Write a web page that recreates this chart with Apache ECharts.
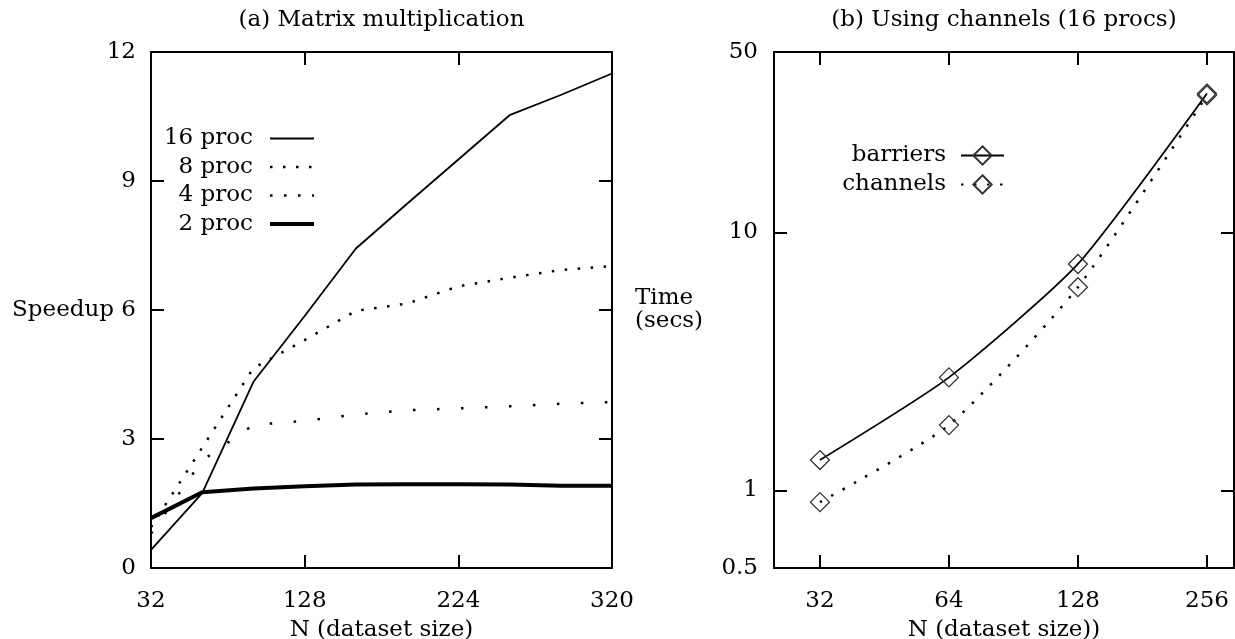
<!DOCTYPE html>
<html><head><meta charset="utf-8">
<script src="https://cdn.jsdelivr.net/npm/echarts@6/dist/echarts.min.js"></script>
<style>html,body{margin:0;padding:0;background:#fff}#c{width:1235px;height:639px}</style>
</head><body><div id="c"></div>
<script>
// ---- data ----
const nValues = [32, 64, 96, 128, 160, 192, 224, 256, 288, 320];
const proc16 = [0.42, 1.74, 4.33, 5.86, 7.43, 8.47, 9.5, 10.53, 11.0, 11.5];
const proc8 = [0.95, 2.8, 4.65, 5.3, 5.98, 6.15, 6.55, 6.75, 6.93, 7.02];
const proc4 = [0.8, 2.5, 3.33, 3.42, 3.57, 3.67, 3.71, 3.76, 3.82, 3.86];
const proc2 = [1.16, 1.76, 1.85, 1.9, 1.94, 1.95, 1.95, 1.94, 1.91, 1.91];
const leftXTicks = [32, 128, 224, 320];
const leftYTicks = [0, 3, 6, 9, 12];
const chanN = [32, 64, 128, 256];
const barriers = [1.31, 2.74, 7.54, 34.5];
const channels = [0.90, 1.79, 6.13, 34.0];
const rightXTicks = [32, 64, 128, 256];
const rightYTicks = [0.5, 1, 10, 50];

// ---- styling ----
const FONT = 'DejaVu Serif';
const txt = {fontFamily: FONT, fontSize: 23, color: '#000', lineHeight: 23};
const axisLine = {show: true, onZero: false, lineStyle: {color: '#000', width: 2}};
const tick = {show: true, inside: true, length: 13, lineStyle: {color: '#000', width: 2}};
function pick(list) {
  return function (v) {
    for (const t of list) if (Math.abs(v - t) <= 1e-3 * Math.max(1, Math.abs(t))) return String(t);
    return '';
  };
}
function pairs(xs, ys) { return xs.map((x, i) => [x, ys[i]]); }
const noSym = {opacity: 0};

const chart = echarts.init(document.getElementById('c'), null, {renderer: 'canvas'});
const option = {
  animation: false,
  backgroundColor: '#fff',
  title: [
    {text: '(a) Matrix multiplication', left: 381.5, top: 9, padding: 0, textAlign: 'center', textStyle: Object.assign({}, txt, {fontWeight: 'normal'})},
    {text: '(b) Using channels (16 procs)', left: 1004, top: 9, padding: 0, textAlign: 'center', textStyle: Object.assign({}, txt, {fontWeight: 'normal'})}
  ],
  grid: [
    {left: 151, top: 52, width: 461, height: 516, show: false, containLabel: false, outerBoundsMode: 'none'},
    {left: 774, top: 52, width: 460, height: 516, show: false, containLabel: false, outerBoundsMode: 'none'}
  ],
  legend: [
    {
      data: [
        {name: '16 proc', lineStyle: {width: 1.8}, itemStyle: noSym},
        {name: '8 proc', lineStyle: {width: 2.5, type: [2.5, 10.5]}, itemStyle: noSym},
        {name: '4 proc', lineStyle: {width: 2.5, type: [2.5, 11.5]}, itemStyle: noSym},
        {name: '2 proc', lineStyle: {width: 4}, itemStyle: noSym}
      ],
      orient: 'vertical', align: 'right', right: 919, top: 127, padding: 0,
      itemWidth: 44, itemHeight: 14, itemGap: 5.5, selectedMode: false,
      itemStyle: noSym,
      textStyle: Object.assign({}, txt, {padding: [0, 12, 0, 0]})
    },
    {
      data: ['barriers', 'channels'],
      orient: 'vertical', align: 'right', right: 230, top: 144, padding: 0,
      itemWidth: 43, itemHeight: 23, itemGap: 6, selectedMode: false,
      textStyle: Object.assign({}, txt, {padding: [0, 10, 0, 0]})
    }
  ],
  xAxis: [
    {gridIndex: 0, type: 'value', min: 32, max: 320, interval: 96, position: 'bottom',
     axisLine: axisLine, axisTick: tick, splitLine: {show: false},
     axisLabel: Object.assign({}, txt, {margin: 22, formatter: pick(leftXTicks)}),
     name: 'N (dataset size)', nameLocation: 'middle', nameGap: 51, nameMoveOverlap: false, nameTextStyle: txt},
    {gridIndex: 0, type: 'value', min: 32, max: 320, interval: 96, position: 'top',
     axisLine: axisLine, axisTick: tick, splitLine: {show: false}, axisLabel: {show: false}},
    {gridIndex: 1, type: 'log', logBase: 2, min: 25, max: 296, position: 'bottom',
     axisLine: axisLine, axisTick: tick, splitLine: {show: false}, minorTick: {show: false},
     axisLabel: Object.assign({}, txt, {margin: 22, formatter: pick(rightXTicks)}),
     name: 'N (dataset size))', nameLocation: 'middle', nameGap: 51, nameMoveOverlap: false, nameTextStyle: txt},
    {gridIndex: 1, type: 'log', logBase: 2, min: 25, max: 296, position: 'top',
     axisLine: axisLine, axisTick: tick, splitLine: {show: false}, axisLabel: {show: false}}
  ],
  yAxis: [
    {gridIndex: 0, type: 'value', min: 0, max: 12, interval: 3, position: 'left',
     axisLine: axisLine, axisTick: tick, splitLine: {show: false},
     axisLabel: Object.assign({}, txt, {margin: 15, showMinLabel: true, showMaxLabel: true, formatter: pick(leftYTicks)}),
     name: 'Speedup', nameLocation: 'middle', nameRotate: 0, nameGap: 37, nameMoveOverlap: false, nameTextStyle: txt},
    {gridIndex: 0, type: 'value', min: 0, max: 12, interval: 3, position: 'right',
     axisLine: axisLine, axisTick: tick, splitLine: {show: false}, axisLabel: {show: false}},
    {gridIndex: 1, type: 'log', logBase: 10, min: 0.5, max: 50, position: 'left',
     axisLine: axisLine, axisTick: tick, splitLine: {show: false},
     axisLabel: Object.assign({}, txt, {margin: 16, showMinLabel: true, showMaxLabel: true, formatter: pick(rightYTicks)}),
     name: 'Time\n(secs)', nameLocation: 'middle', nameRotate: 0, nameGap: 139, nameMoveOverlap: false,
     nameTextStyle: Object.assign({}, txt, {align: 'left', lineHeight: 23, padding: [0, 0, 6, 0]})},
    {gridIndex: 1, type: 'log', logBase: 10, min: 0.5, max: 50, position: 'right',
     axisLine: axisLine, axisTick: tick, splitLine: {show: false}, axisLabel: {show: false}}
  ],
  series: [
    {name: '16 proc', type: 'line', xAxisIndex: 0, yAxisIndex: 0, data: pairs(nValues, proc16),
     symbol: 'none', lineStyle: {color: '#000', width: 1.8}, itemStyle: {color: '#000'}},
    {name: '8 proc', type: 'line', xAxisIndex: 0, yAxisIndex: 0, data: pairs(nValues, proc8),
     symbol: 'none', lineStyle: {color: '#000', width: 2.5, type: [2.5, 10.5], cap: 'butt'}, itemStyle: {color: '#000'}},
    {name: '4 proc', type: 'line', xAxisIndex: 0, yAxisIndex: 0, data: pairs(nValues, proc4),
     symbol: 'none', lineStyle: {color: '#000', width: 2.5, type: [2.5, 21.5], cap: 'butt'}, itemStyle: {color: '#000'}},
    {name: '2 proc', type: 'line', xAxisIndex: 0, yAxisIndex: 0, data: pairs(nValues, proc2),
     symbol: 'none', lineStyle: {color: '#000', width: 4}, itemStyle: {color: '#000'}},
    {name: 'barriers', type: 'line', xAxisIndex: 2, yAxisIndex: 2, data: pairs(chanN, barriers),
     smooth: 0.2, symbol: 'diamond', symbolSize: 19, showSymbol: true,
     lineStyle: {color: '#000', width: 1.8},
     itemStyle: {color: 'rgba(0,0,0,0)', borderColor: '#333', borderWidth: 1.3}},
    {name: 'channels', type: 'line', xAxisIndex: 2, yAxisIndex: 2, data: pairs(chanN, channels),
     smooth: 0.2, symbol: 'diamond', symbolSize: 19, showSymbol: true,
     lineStyle: {color: '#000', width: 2.5, type: [2.5, 10.5], cap: 'butt'},
     itemStyle: {color: 'rgba(0,0,0,0)', borderColor: '#333', borderWidth: 1.3}}
  ]
};
chart.setOption(option);
</script>
</body></html>
